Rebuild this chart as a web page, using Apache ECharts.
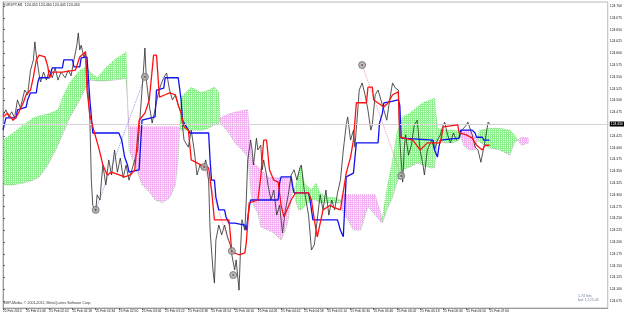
<!DOCTYPE html>
<html>
<head>
<meta charset="utf-8">
<script src="https://cdn.jsdelivr.net/npm/echarts@6/dist/echarts.min.js"></script>
<style>
  html, body { margin: 0; padding: 0; background: #fff; }
  #chart { width: 625px; height: 316px; }
</style>
</head>
<body>
<div id="chart"></div>
<script>
// EURJPY M1 with Ichimoku; x = bar index (1 bar = 1 minute from 25 Feb 2013 01:30)
const header = "EURJPY,M1  124.455 124.460 124.445 124.450";
const copyright = "BMP-Media, \u00a9 2001-2012, MetaQuotes Software Corp.";
const infoLines = ["1.74 lots", "bal: 1,125.45"];

const timeLabels = ["25 Feb 2013", "25 Feb 01:46", "25 Feb 02:02", "25 Feb 02:18", "25 Feb 02:34",
  "25 Feb 02:50", "25 Feb 03:06", "25 Feb 03:22", "25 Feb 03:38", "25 Feb 03:54", "25 Feb 04:10",
  "25 Feb 04:26", "25 Feb 04:42", "25 Feb 04:58", "25 Feb 05:14", "25 Feb 05:30", "25 Feb 05:46",
  "25 Feb 06:02", "25 Feb 06:18", "25 Feb 06:34", "25 Feb 06:50", "25 Feb 07:06"];
const barsPerLabel = 16;

const yTicks = [124.700, 124.675, 124.650, 124.625, 124.600, 124.575, 124.550, 124.525, 124.500,
  124.475, 124.450, 124.425, 124.400, 124.375, 124.350, 124.325, 124.300, 124.275, 124.250,
  124.225, 124.200, 124.175, 124.150, 124.125, 124.100, 124.075];

// close price line
const closes = [[0,124.469],[2,124.480],[4,124.465],[6,124.476],[8,124.463],[10,124.501],[12,124.484],
  [15,124.522],[17,124.512],[19,124.564],[21,124.586],[22,124.624],[23,124.596],[25,124.554],[26,124.539],
  [28,124.560],[30,124.543],[32,124.564],[34,124.548],[36,124.569],[38,124.543],[40,124.560],[43,124.548],
  [45,124.564],[47,124.552],[49,124.586],[51,124.617],[52,124.643],[53,124.607],[54,124.617],[56,124.590],
  [57,124.603],[58,124.554],[60,124.458],[61,124.331],[62,124.278],[64,124.264],[65,124.300],[67,124.289],
  [68,124.331],[69,124.363],[71,124.321],[73,124.374],[75,124.342],[77,124.395],[79,124.348],[81,124.378],
  [83,124.336],[85,124.363],[87,124.331],[89,124.353],[91,124.374],[93,124.395],[95,124.480],[97,124.564],
  [98,124.611],[99,124.543],[101,124.490],[103,124.452],[105,124.480],[107,124.512],[109,124.533],
  [111,124.548],[113,124.558],[115,124.522],[117,124.501],[119,124.512],[121,124.490],[123,124.473],
  [125,124.416],[128,124.401],[130,124.437],[132,124.395],[134,124.342],[136,124.363],[138,124.353],
  [140,124.374],[142,124.331],[143,124.225],[145,124.141],[146,124.113],[147,124.204],[149,124.236],
  [151,124.215],[153,124.236],[155,124.211],[157,124.194],[158,124.173],[160,124.141],[161,124.162],
  [163,124.098],[164,124.183],[165,124.247],[167,124.225],[168,124.289],[169,124.374],[171,124.416],
  [172,124.395],[173,124.363],[175,124.420],[176,124.395],[178,124.405],[179,124.353],[180,124.374],
  [182,124.342],[183,124.321],[185,124.289],[187,124.310],[189,124.257],[191,124.278],[193,124.219],
  [195,124.268],[197,124.300],[199,124.342],[201,124.353],[203,124.331],[205,124.357],[206,124.363],
  [208,124.310],[211,124.257],[213,124.183],[215,124.194],[217,124.247],[219,124.300],[221,124.268],
  [223,124.310],[225,124.257],[227,124.289],[229,124.268],[231,124.304],[233,124.331],[235,124.395],
  [237,124.448],[238,124.465],[240,124.416],[242,124.437],[243,124.401],[245,124.480],[246,124.522],
  [248,124.537],[249,124.539],[250,124.512],[252,124.480],[254,124.437],[255,124.448],[257,124.512],
  [259,124.522],[261,124.501],[263,124.480],[265,124.458],[267,124.501],[269,124.537],[271,124.526],
  [273,124.522],[274,124.416],[276,124.327],[277,124.395],[278,124.427],[280,124.384],[282,124.405],
  [284,124.448],[286,124.458],[288,124.395],[290,124.363],[291,124.342],[293,124.395],[296,124.416],
  [298,124.395],[300,124.416],[302,124.427],[304,124.448],[305,124.454],[307,124.427],[309,124.410],
  [311,124.431],[313,124.416],[315,124.422],[317,124.437],[320,124.448],[321,124.454],[322,124.454],
  [324,124.427],[326,124.401],[328,124.395],[330,124.369],[333,124.416],[335,124.454],[336,124.450]];

// Tenkan-sen (red)
const tenkan = [[0,124.465],[3,124.473],[7,124.458],[10,124.469],[14,124.495],[16,124.512],[19,124.522],
  [21,124.550],[23,124.586],[25,124.596],[29,124.592],[31,124.571],[32,124.547],[34,124.560],[41,124.560],
  [50,124.564],[53,124.592],[57,124.603],[58,124.522],[60,124.469],[63,124.433],[66,124.401],[69,124.363],
  [72,124.342],[75,124.348],[84,124.338],[88,124.342],[91,124.353],[94,124.458],[98,124.473],[101,124.501],
  [104,124.596],[106,124.596],[108,124.507],[112,124.512],[115,124.516],[119,124.512],[121,124.490],
  [123,124.473],[125,124.444],[128,124.437],[130,124.374],[137,124.363],[142,124.357],[144,124.310],
  [146,124.247],[156,124.247],[157,124.215],[158,124.179],[163,124.173],[167,124.177],[168,124.198],
  [170,124.283],[176,124.289],[178,124.338],[180,124.416],[182,124.416],[184,124.353],[187,124.331],
  [190,124.327],[192,124.278],[194,124.253],[199,124.289],[202,124.304],[211,124.304],[213,124.289],
  [215,124.247],[217,124.211],[221,124.268],[226,124.278],[228,124.274],[233,124.268],[237,124.346],
  [240,124.380],[242,124.416],[244,124.495],[251,124.495],[252,124.528],[255,124.528],[256,124.501],
  [263,124.486],[266,124.495],[269,124.512],[273,124.518],[274,124.422],[283,124.416],[288,124.395],
  [293,124.410],[302,124.410],[304,124.444],[314,124.448],[315,124.431],[320,124.427],[324,124.420],
  [327,124.405],[331,124.395],[333,124.405],[336,124.405]];

// Kijun-sen (blue)
const kijun = [[0,124.437],[2,124.463],[9,124.463],[10,124.480],[16,124.486],[17,124.501],[19,124.516],
  [23,124.516],[24,124.537],[25,124.548],[32,124.548],[33,124.558],[34,124.569],[41,124.569],[42,124.586],
  [48,124.586],[49,124.571],[53,124.571],[54,124.590],[58,124.592],[60,124.501],[62,124.431],[80,124.431],
  [82,124.416],[84,124.380],[86,124.363],[87,124.348],[94,124.353],[96,124.458],[105,124.465],[106,124.522],
  [111,124.526],[112,124.548],[121,124.548],[123,124.501],[124,124.458],[128,124.437],[129,124.431],
  [142,124.431],[143,124.374],[144,124.331],[146,124.331],[147,124.295],[149,124.268],[153,124.268],
  [154,124.253],[156,124.240],[160,124.240],[161,124.236],[167,124.236],[168,124.225],[169,124.225],
  [170,124.274],[171,124.289],[190,124.289],[191,124.325],[192,124.338],[199,124.338],[200,124.317],
  [201,124.304],[211,124.304],[212,124.289],[213,124.289],[214,124.247],[231,124.247],[233,124.225],
  [235,124.211],[236,124.211],[237,124.338],[242,124.346],[244,124.410],[259,124.410],[260,124.452],
  [262,124.473],[263,124.495],[267,124.497],[268,124.501],[273,124.501],[274,124.490],[275,124.420],
  [297,124.416],[298,124.395],[300,124.380],[301,124.401],[302,124.416],[315,124.420],[316,124.437],
  [324,124.437],[326,124.431],[327,124.422],[331,124.422],[332,124.416],[336,124.416]];

// Senkou span A / B (shifted 26 bars forward), sampled at kumoBars
const kumoBars = [0,7,14,21,25,31,38,41,46,53,58,60,65,71,77,82,85,87,91,96,101,105,110,115,119,121,
  123,130,137,142,146,149,150,156,160,165,169,171,173,176,178,183,187,192,195,197,200,202,204,206,208,
  213,216,219,224,228,233,234,238,242,247,252,254,257,261,262,265,269,272,276,281,286,290,295,298,300,
  305,311,315,318,322,326,329,336,343,350,353,358,363];
const spanA = [124.416,124.431,124.448,124.463,124.467,124.471,124.480,124.505,124.537,124.564,124.571,
  124.560,124.548,124.569,124.586,124.596,124.603,124.395,124.363,124.321,124.306,124.289,124.283,124.293,
  124.321,124.374,124.507,124.528,124.516,124.522,124.528,124.518,124.452,124.431,124.410,124.395,124.380,
  124.310,124.278,124.261,124.232,124.225,124.219,124.204,124.225,124.247,124.310,124.317,124.346,124.363,
  124.325,124.310,124.325,124.304,124.295,124.295,124.289,124.268,124.247,124.225,124.225,124.274,124.268,
  124.257,124.242,124.253,124.310,124.374,124.431,124.465,124.473,124.486,124.495,124.501,124.505,124.441,
  124.437,124.437,124.435,124.405,124.395,124.395,124.437,124.441,124.441,124.437,124.427,124.405,124.410];
const spanB = [124.321,124.321,124.325,124.331,124.338,124.363,124.405,124.427,124.463,124.501,124.533,
  124.543,124.541,124.541,124.543,124.545,124.547,124.444,124.444,124.444,124.444,124.444,124.444,124.444,
  124.444,124.444,124.437,124.437,124.437,124.441,124.448,124.452,124.463,124.471,124.475,124.478,124.480,
  124.395,124.367,124.359,124.353,124.338,124.336,124.336,124.336,124.336,124.331,124.289,124.268,124.268,
  124.274,124.289,124.289,124.283,124.283,124.283,124.283,124.300,124.300,124.300,124.300,124.300,124.300,
  124.300,124.257,124.240,124.268,124.295,124.325,124.353,124.359,124.367,124.363,124.357,124.357,124.416,
  124.410,124.410,124.416,124.437,124.437,124.422,124.412,124.399,124.395,124.384,124.410,124.422,124.420];

// fractal markers and the dotted lines joining them
const fractals = [[64,124.268],[98,124.550],[139,124.359],[158,124.181],[159,124.130],[248,124.575],[275,124.340]];
const trendBlue = [[64,124.268],[98,124.550]];
const trendPink1 = [[139,124.359],[158,124.181]];
const trendPink2 = [[248,124.575],[275,124.340]];

const lastClose = closes[closes.length - 1][1];

function hatch(color) {
  const c = document.createElement("canvas");
  c.width = 2; c.height = 2;
  const g = c.getContext("2d");
  g.fillStyle = color;
  g.fillRect(0, 0, 2, 1);
  g.fillRect(0, 1, 1, 1);
  return { image: c, repeat: "repeat" };
}
const greenFill = hatch("#8cf08c");
const pinkFill = hatch("#f4b2f4");

const font = "Liberation Sans";
const chart = echarts.init(document.getElementById("chart"), null, { renderer: "canvas" });

// one kumo segment per pair of neighbouring samples
const kumoSegs = kumoBars.slice(0, -1).map((b, i) =>
  [b, spanA[i], spanB[i], kumoBars[i + 1], spanA[i + 1], spanB[i + 1]]);

function renderKumo(params, api) {
  const x0 = api.value(0), a0 = api.value(1), b0 = api.value(2);
  const x1 = api.value(3), a1 = api.value(4), b1 = api.value(5);
  const d0 = a0 - b0, d1 = a1 - b1;
  const P = (x, y) => api.coord([x, y]);
  const poly = (pts, up) => ({ type: "polygon", shape: { points: pts }, style: { fill: up ? greenFill : pinkFill } });
  if (d0 * d1 < 0) {
    const t = d0 / (d0 - d1);
    const xc = x0 + t * (x1 - x0), yc = a0 + t * (a1 - a0);
    return { type: "group", children: [
      poly([P(x0, a0), P(xc, yc), P(x0, b0)], d0 > 0),
      poly([P(xc, yc), P(x1, a1), P(x1, b1)], d1 > 0)
    ] };
  }
  return poly([P(x0, a0), P(x1, a1), P(x1, b1), P(x0, b0)], d0 + d1 >= 0);
}

const line = (name, data, color, width, type, z) => ({
  name, type: "line", data, symbol: "none", silent: true, z: z || 2,
  lineStyle: { color, width, type: type || "solid" }
});

chart.setOption({
  animation: false,
  backgroundColor: "#fff",
  grid: { left: 1, right: 15, top: 2, bottom: 8, show: true, borderColor: "#b8b8b8", borderWidth: 1 },
  xAxis: {
    type: "value", min: 0, max: 417.6,
    axisLine: { show: true, lineStyle: { color: "#999", width: 1 } },
    axisTick: { show: true, customValues: timeLabels.map((_, i) => i * barsPerLabel), length: 2, lineStyle: { color: "#666" } },
    axisLabel: {
      customValues: timeLabels.map((_, i) => i * barsPerLabel),
      formatter: v => timeLabels[Math.round(v / barsPerLabel)],
      align: "left", fontSize: 3.3, margin: 2, color: "#222", fontFamily: font
    },
    splitLine: { show: false }
  },
  yAxis: {
    type: "value", position: "right", min: 124.0602, max: 124.7085,
    axisLine: { show: true, lineStyle: { color: "#999", width: 1 } },
    axisTick: { show: true, customValues: yTicks, length: 2, lineStyle: { color: "#666" } },
    axisLabel: { customValues: yTicks, formatter: v => v.toFixed(3), fontSize: 3.4, margin: 2, color: "#222", fontFamily: font },
    splitLine: { show: false }
  },
  series: [
    { name: "kumo", type: "custom", data: kumoSegs, renderItem: renderKumo, silent: true, z: 1, clip: true,
      encode: { x: [0, 3], y: [1, 2, 4, 5] } },
    line("spanA", kumoBars.map((b, i) => [b, spanA[i]]), "rgba(60,210,60,0.5)", 1, "dotted", 1),
    line("spanB", kumoBars.map((b, i) => [b, spanB[i]]), "rgba(215,110,215,0.6)", 1, "dotted", 1),
    line("trendBlue", trendBlue, "rgba(90,110,230,0.7)", 1, "dotted", 2),
    line("trendPink1", trendPink1, "rgba(240,120,160,0.8)", 1, "dotted", 2),
    line("trendPink2", trendPink2, "rgba(240,120,160,0.8)", 1, "dotted", 2),
    Object.assign(line("close", closes, "#2a2a2a", 0.8, "solid", 3), {
      markLine: {
        silent: true, symbol: "none", animation: false,
        lineStyle: { color: "#d9d0d5", width: 1, type: "solid" },
        label: {
          show: true, position: "end", distance: 2, formatter: () => lastClose.toFixed(3),
          backgroundColor: "#000", color: "#fff", fontSize: 3.4, padding: [1, 1], fontFamily: font
        },
        data: [{ yAxis: lastClose }]
      }
    }),
    line("kijun", kijun, "#1010f0", 1.3, "solid", 4),
    line("tenkan", tenkan, "#ff1010", 1.3, "solid", 5),
    {
      name: "fractals", type: "scatter", data: fractals, symbol: "circle", symbolSize: 7, silent: true, z: 6,
      itemStyle: { color: "#a9a9a9", borderColor: "#6e6e6e", borderWidth: 1 }
    },
    {
      name: "fractalDots", type: "scatter", data: fractals, symbol: "circle", symbolSize: 2, silent: true, z: 7,
      itemStyle: { color: "#7a4040" }
    }
  ],
  graphic: [
    { type: "text", left: 3, top: 3, style: { text: header, fontSize: 3.6, fill: "#222", fontFamily: font } },
    { type: "text", left: 3, top: 301, style: { text: copyright, fontSize: 3.6, fill: "#333", fontFamily: font } },
    { type: "text", left: 578, top: 294, style: { text: infoLines.join("\n"), fontSize: 3.6, lineHeight: 4, fill: "#6f7f9a", fontFamily: font } }
  ]
});
</script>
</body>
</html>
